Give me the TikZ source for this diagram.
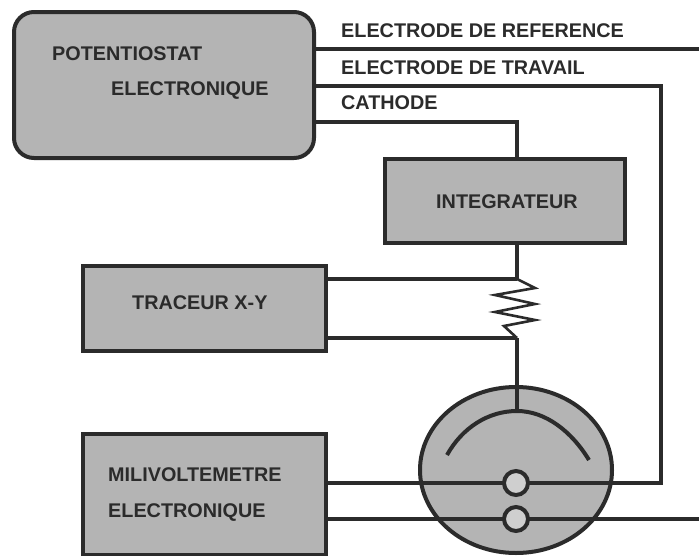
\documentclass[tikz,border=0pt]{standalone}
\usepackage{fontspec}
\setmainfont{Liberation Sans}
\usetikzlibrary{shapes.geometric}
\definecolor{ink}{HTML}{2B2B2B}
\definecolor{panel}{HTML}{B4B4B4}
\definecolor{knob}{HTML}{CFCFCF}
\tikzset{
  block/.style={draw=ink,line width=4pt,fill=panel,rectangle,inner sep=0pt,outer sep=0pt},
  wire/.style={draw=ink,line width=3.2pt,line join=miter},
  boxtext/.style={inner sep=0pt,anchor=west,text=ink,font=\fontsize{19.8}{20}\selectfont\bfseries},
  lead/.style={inner sep=0pt,anchor=west,text=ink,font=\fontsize{19.8}{20}\selectfont\bfseries},
}
\begin{document}
\begin{tikzpicture}[x=1pt,y=-1pt]
\path[use as bounding box,fill=white] (0,0) rectangle (699,555);
% blocks
\node[block,rounded corners=20pt,minimum width=300pt,minimum height=146pt] (pot) at (164,85) {};
\node[block,minimum width=240pt,minimum height=84pt] (integ) at (505,201) {};
\node[block,minimum width=243pt,minimum height=85pt] (trac) at (204,308) {};
\node[block,minimum width=243pt,minimum height=121pt] (milli) at (204,494) {};
% free ends and junctions
\coordinate (refEnd) at (699,49);
\coordinate (travCorner) at (661,86);
\coordinate (cathCorner) at (517,122);
\coordinate (wireTop) at (517,279);
\coordinate (wireBot) at (517,338);
\coordinate (scaleTop) at (517,411);
\coordinate (counterEnd) at (699,519);
% leads
\draw[wire] (pot.east |- refEnd) -- (refEnd);
\draw[wire] (pot.east |- travCorner) -- (travCorner) -- (661,483) -- (milli.east |- 0,483);
\draw[wire] (pot.east |- cathCorner) -- (cathCorner) -- (integ.north -| cathCorner);
\draw[wire] (integ.south -| wireTop) -- (wireTop);
\draw[wire] (trac.east |- wireTop) -- (wireTop);
\draw[wire] (trac.east |- wireBot) -- (wireBot);
% meter
\node[ellipse,draw=ink,line width=4pt,fill=panel,minimum width=192pt,minimum height=166pt,inner sep=0pt,outer sep=0pt] (meter) at (516,470) {};
\draw[wire] (wireBot) -- (scaleTop);
\draw[wire] (milli.east |- 0,483) -- (661,483);
\draw[wire] (milli.east |- 0,519) -- (counterEnd);
\draw[draw=ink,line width=4pt] (447,455) .. controls (462,428) and (488,411) .. (scaleTop) .. controls (546,411) and (572,432) .. (589,460);
\node[circle,draw=ink,line width=4pt,fill=knob,minimum size=24pt,inner sep=0pt] (k1) at (516,483) {};
\node[circle,draw=ink,line width=4pt,fill=knob,minimum size=24pt,inner sep=0pt] (k2) at (516,519) {};
% resistor
\draw[draw=ink,line width=2.6pt,line join=miter,miter limit=10] (wireTop) -- (535,288) -- (495,295) -- (535,304) -- (495,312) -- (535,320) -- (504,326) -- (wireBot);
% labels
\node[lead] (l1) at (341,31) {ELECTRODE DE REFERENCE};
\node[lead] (l2) at (341,68) {ELECTRODE DE TRAVAIL};
\node[lead] (l3) at (341,103) {CATHODE};
\node[boxtext] (t1) at (52,54) {POTENTIOSTAT};
\node[boxtext] (t2) at (111,91) {ELECTRONIQUE};
\node[boxtext] (t3) at (436,202) {INTEGRATEUR};
\node[boxtext] (t4) at (132,303) {TRACEUR X-Y};
\node[boxtext] (t5) at (108,475) {MILIVOLTEMETRE};
\node[boxtext] (t6) at (108,513) {ELECTRONIQUE};
\end{tikzpicture}
\end{document}
